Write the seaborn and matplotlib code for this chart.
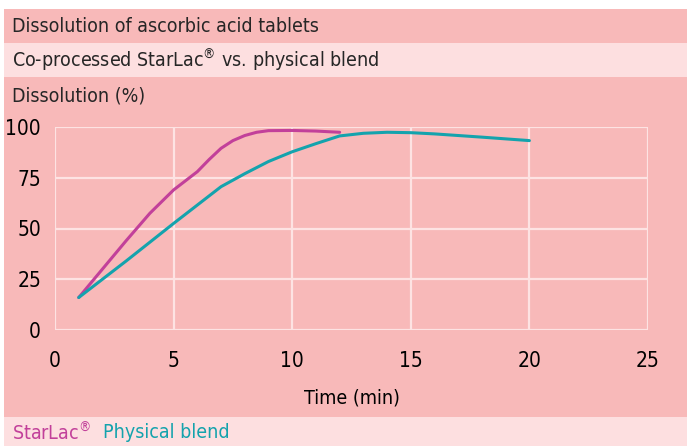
import matplotlib
matplotlib.use('Agg')
import matplotlib.pyplot as plt
import pandas as pd
import seaborn as sns
from matplotlib.patches import Rectangle

# Dados das curvas de dissolução
starlac_time = [1, 2, 3, 4, 5, 6, 6.5, 7, 7.5, 8, 8.5, 9, 10, 11, 12]
starlac_diss = [16, 30, 44, 57.5, 69, 78, 84, 89.5, 93.3, 95.8, 97.4, 98.2, 98.3, 98, 97.4]
blend_time = [1, 3, 5, 7, 8, 9, 10, 11, 12, 13, 14, 15, 16, 18, 20]
blend_diss = [16, 34, 52.5, 70.6, 77, 83, 87.8, 91.8, 95.6, 96.9, 97.4, 97.2, 96.6, 95, 93.3]

x_ticks = [0, 5, 10, 15, 20, 25]
y_ticks = [0, 25, 50, 75, 100]

title = 'Dissolution of ascorbic acid tablets'
subtitle = 'Co-processed StarLac$^{®}$ vs. physical blend'
series_names = ['StarLac®', 'Physical blend']

# Cores
PINK = '#f8b9b9'
LIGHT = '#fddfe0'
GRID = '#fde3e3'
MAGENTA = '#c2409a'
TEAL = '#14a3ad'

sns.set_theme(style='white')
plt.rcParams['font.family'] = ['DejaVu Sans']
plt.rcParams['font.stretch'] = 'condensed'
plt.rcParams['mathtext.default'] = 'regular'

df = pd.concat([
    pd.DataFrame({'Time': starlac_time, 'Dissolution': starlac_diss, 'Serie': series_names[0]}),
    pd.DataFrame({'Time': blend_time, 'Dissolution': blend_diss, 'Serie': series_names[1]}),
])

W, H = 693, 446
fig = plt.figure(figsize=(W / 100, H / 100), dpi=100)
fig.patch.set_facecolor('white')

def band(y0, y1, color):
    # faixa de fundo em coordenadas de pixel
    fig.patches.append(Rectangle((4 / W, 1 - y1 / H), (687 - 4) / W, (y1 - y0) / H,
                                 transform=fig.transFigure, facecolor=color,
                                 edgecolor='none', zorder=-10))

band(9, 43, PINK)
band(43, 77, LIGHT)
band(77, 417, PINK)
band(417, 446, LIGHT)

ax = fig.add_axes([55 / W, 1 - 330 / H, (648 - 55) / W, (330 - 127) / H])
ax.set_facecolor(PINK)
ax.set_zorder(5)

sns.lineplot(data=df, x='Time', y='Dissolution', hue='Serie',
             palette=[MAGENTA, TEAL], linewidth=2.2, legend=False, ax=ax,
             sort=False)

FS = 14
ax.set_xlim(0, 25)
ax.set_ylim(0, 100)
ax.set_xticks(x_ticks)
ax.set_yticks(y_ticks)
ax.set_xticklabels([str(v) for v in x_ticks])
ax.set_yticklabels([str(v) for v in y_ticks])
ax.tick_params(axis='x', length=0, pad=15, labelsize=15, colors='black')
ax.tick_params(axis='y', length=0, pad=10, labelsize=15, colors='black')
ax.grid(True, color=GRID, linewidth=1.6)
ax.set_axisbelow(True)
for s in ax.spines.values():
    s.set_visible(False)
ax.set_xlabel('Time (min)', fontsize=FS, labelpad=13, color='black')
ax.set_ylabel('')

fig.text(12 / W, 1 - 26 / H, title, fontsize=FS, va='center', ha='left')
fig.text(12 / W, 1 - 60 / H, subtitle, fontsize=FS, va='center', ha='left')
fig.text(12 / W, 1 - 96 / H, 'Dissolution (%)', fontsize=FS, va='center', ha='left')

legend_txt = [n.replace('®', '$^{®}$') for n in series_names]
fig.text(12 / W, 1 - 433 / H, legend_txt[0], fontsize=FS, va='center', ha='left', color=MAGENTA)
fig.text(103 / W, 1 - 433 / H, legend_txt[1], fontsize=FS, va='center', ha='left', color=TEAL)

fig.savefig('out.png', dpi=100, facecolor='white')
